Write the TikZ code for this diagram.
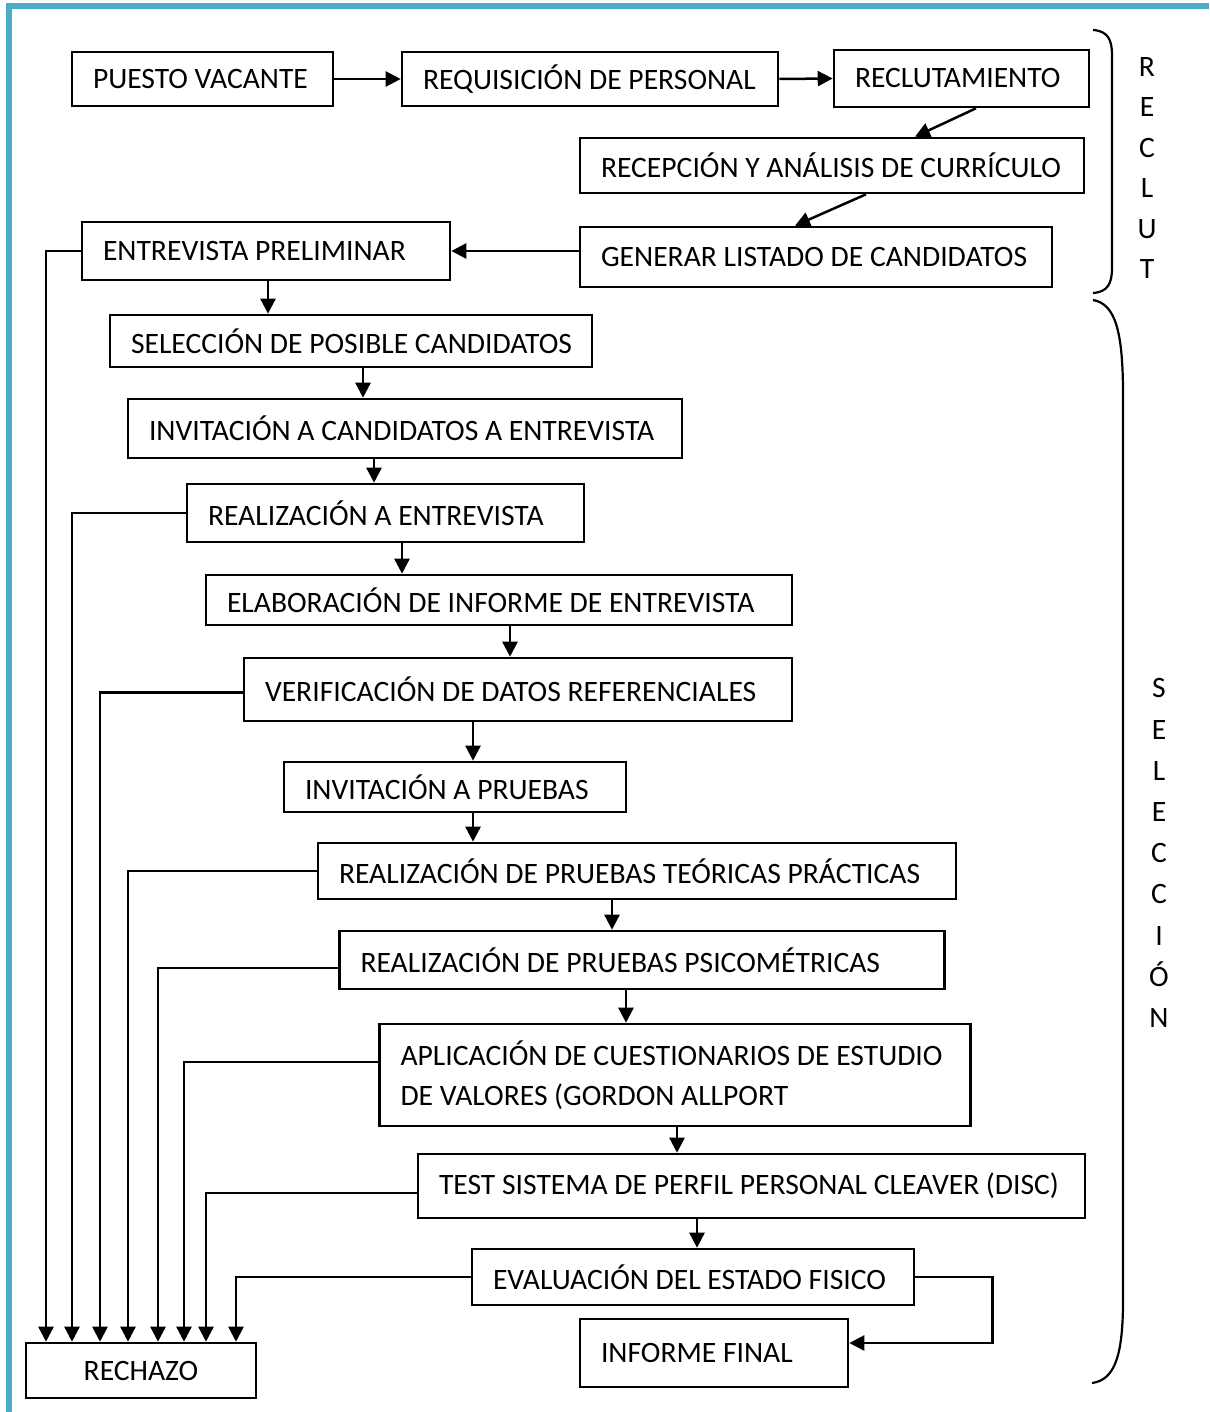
\documentclass[tikz,border=0pt]{standalone}
\usepackage{fontspec}
\setmainfont{Carlito}
\usetikzlibrary{arrows.meta}
\definecolor{frameblue}{HTML}{4BACC6}
% fixed-width, left-aligned line inside a box
\newcommand{\bt}[2]{\makebox[#1pt][l]{#2}}

\begin{document}
\begin{tikzpicture}[x=0.5pt,y=-0.5pt,
  font=\fontsize{14.8}{20}\selectfont,
  box/.style={draw, line width=1.3pt, inner xsep=10.5pt, inner ysep=0pt, align=left},
  arr/.style={line width=1.25pt, -{Triangle[length=7.5pt,width=7.5pt]}},
  bracket/.style={line width=1.1pt},
  vlabel/.style={inner sep=0pt, align=center}]

\useasboundingbox (0,0) rectangle (1209,1412);

% page frame
\draw[frameblue, line width=3pt] (9,1412) -- (9,6.5) -- (1209,6.5);

% recruitment stage
\node[box, minimum height=27pt]   (pv)  at (202.5,79)   {\bt{109.5}{PUESTO VACANTE}};
\node[box, minimum height=27pt]   (rq)  at (590,79)     {\bt{167}{REQUISICIÓN DE PERSONAL}};
\node[box, minimum height=28.5pt] (rc)  at (961.5,78.5) {\bt{106.5}{RECLUTAMIENTO}};
\node[box, minimum height=27.5pt] (ra)  at (832,165.5)  {\bt{231}{RECEPCIÓN Y ANÁLISIS DE CURRÍCULO}};
\node[box, minimum height=30pt]   (gl)  at (816,257)    {\bt{215}{GENERAR LISTADO DE CANDIDATOS}};
\node[box, minimum height=29pt]   (ep)  at (266,251)    {\bt{163}{ENTREVISTA PRELIMINAR}};

% selection stage
\node[box, minimum height=26pt]   (sp)  at (351,341)    {\bt{220}{SELECCIÓN DE POSIBLE CANDIDATOS}};
\node[box, minimum height=29.5pt] (ic)  at (405,428.5)  {\bt{256}{INVITACIÓN A CANDIDATOS A ENTREVISTA}};
\node[box, minimum height=29pt]   (re)  at (385.5,513)  {\bt{177.5}{REALIZACIÓN A ENTREVISTA}};
\node[box, minimum height=25pt]   (el)  at (499,600)    {\bt{272}{ELABORACIÓN DE INFORME DE ENTREVISTA}};
\node[box, minimum height=31.5pt] (vd)  at (518,689.5)  {\bt{253}{VERIFICACIÓN DE DATOS REFERENCIALES}};
\node[box, minimum height=25pt]   (ipr) at (455,787)    {\bt{150}{INVITACIÓN A PRUEBAS}};
\node[box, minimum height=28pt]   (tp)  at (637,871)    {\bt{298}{REALIZACIÓN DE PRUEBAS TEÓRICAS PRÁCTICAS}};
\node[box, minimum height=29pt]   (ps)  at (642,960)    {\bt{281.5}{REALIZACIÓN DE PRUEBAS PSICOMÉTRICAS}};
\node[box, minimum height=51pt]   (ap)  at (675,1075)   {\bt{274.5}{APLICACIÓN DE CUESTIONARIOS DE ESTUDIO}\\\bt{274.5}{DE VALORES (GORDON ALLPORT}};
\node[box, minimum height=32pt]   (ts)  at (751.5,1186) {\bt{312.5}{TEST SISTEMA DE PERFIL PERSONAL CLEAVER (DISC)}};
\node[box, minimum height=28pt]   (ev)  at (693,1277)   {\bt{200}{EVALUACIÓN DEL ESTADO FISICO}};
\node[box, minimum height=34pt]   (inf) at (714,1353)   {\bt{113}{INFORME FINAL}};
\node[box, minimum height=27.5pt] (rj)  at (141,1370.5) {\makebox[94pt][c]{RECHAZO}};

% stage brackets and their vertical labels
\draw[bracket] (1093,30) .. controls (1108,31) and (1112,40) .. (1112,55)
  -- (1112,268) .. controls (1112,283) and (1108,292) .. (1093,293);
\draw[bracket] (1093,300) .. controls (1115,304) and (1123,330) .. (1123,395)
  -- (1123,1300) .. controls (1123,1355) and (1115,1380) .. (1092,1383);
\node[vlabel, font=\fontsize{14.8}{20.25}\selectfont] (lrec) at (1147,168) {R\\E\\C\\L\\U\\T};
\node[vlabel, font=\fontsize{14.8}{20.6}\selectfont] (lsel) at (1159,853) {S\\E\\L\\E\\C\\C\\I\\Ó\\N};

% main flow
\draw[arr] (pv.east) -- (rq.west);
\draw[arr] (rq.east) -- (rc.west);
\draw[arr] ([xshift=7.25pt]rc.south) -- ([xshift=41.5pt]ra.north);
\draw[arr] ([xshift=17pt]ra.south) -- ([xshift=-10.5pt]gl.north);
\draw[arr] (gl.west |- ep.east) -- (ep.east);
\draw[arr] (ep.south -| 268,0) -- (sp.north -| 268,0);
\draw[arr] (sp.south -| 363,0) -- (ic.north -| 363,0);
\draw[arr] (ic.south -| 374,0) -- (re.north -| 374,0);
\draw[arr] (re.south -| 402,0) -- (el.north -| 402,0);
\draw[arr] (el.south -| 510,0) -- (vd.north -| 510,0);
\draw[arr] (vd.south -| 473,0) -- (ipr.north -| 473,0);
\draw[arr] (ipr.south -| 473,0) -- (tp.north -| 473,0);
\draw[arr] (tp.south -| 612,0) -- (ps.north -| 612,0);
\draw[arr] (ps.south -| 626,0) -- (ap.north -| 626,0);
\draw[arr] (ap.south -| 677,0) -- (ts.north -| 677,0);
\draw[arr] (ts.south -| 697,0) -- (ev.north -| 697,0);
\draw[arr] (ev.east) -| ([xshift=71.5pt,yshift=5pt]inf.east) -- ([yshift=5pt]inf.east);

% rejection branches
\coordinate (d1) at (46,0);
\coordinate (d2) at (72,0);
\coordinate (d3) at (100,0);
\coordinate (d4) at (128,0);
\coordinate (d5) at (158,0);
\coordinate (d6) at (184,0);
\coordinate (d7) at (206,0);
\coordinate (d8) at (236,0);
\draw[arr] (ep.west) -| (rj.north -| d1);
\draw[arr] (re.west) -| (rj.north -| d2);
\draw[arr] ([yshift=-1.5pt]vd.west) -| (rj.north -| d3);
\draw[arr] (tp.west) -| (rj.north -| d4);
\draw[arr] ([yshift=-4pt]ps.west) -| (rj.north -| d5);
\draw[arr] ([yshift=6.5pt]ap.west) -| (rj.north -| d6);
\draw[arr] ([yshift=-3.5pt]ts.west) -| (rj.north -| d7);
\draw[arr] (ev.west) -| (rj.north -| d8);
\end{tikzpicture}
\end{document}
